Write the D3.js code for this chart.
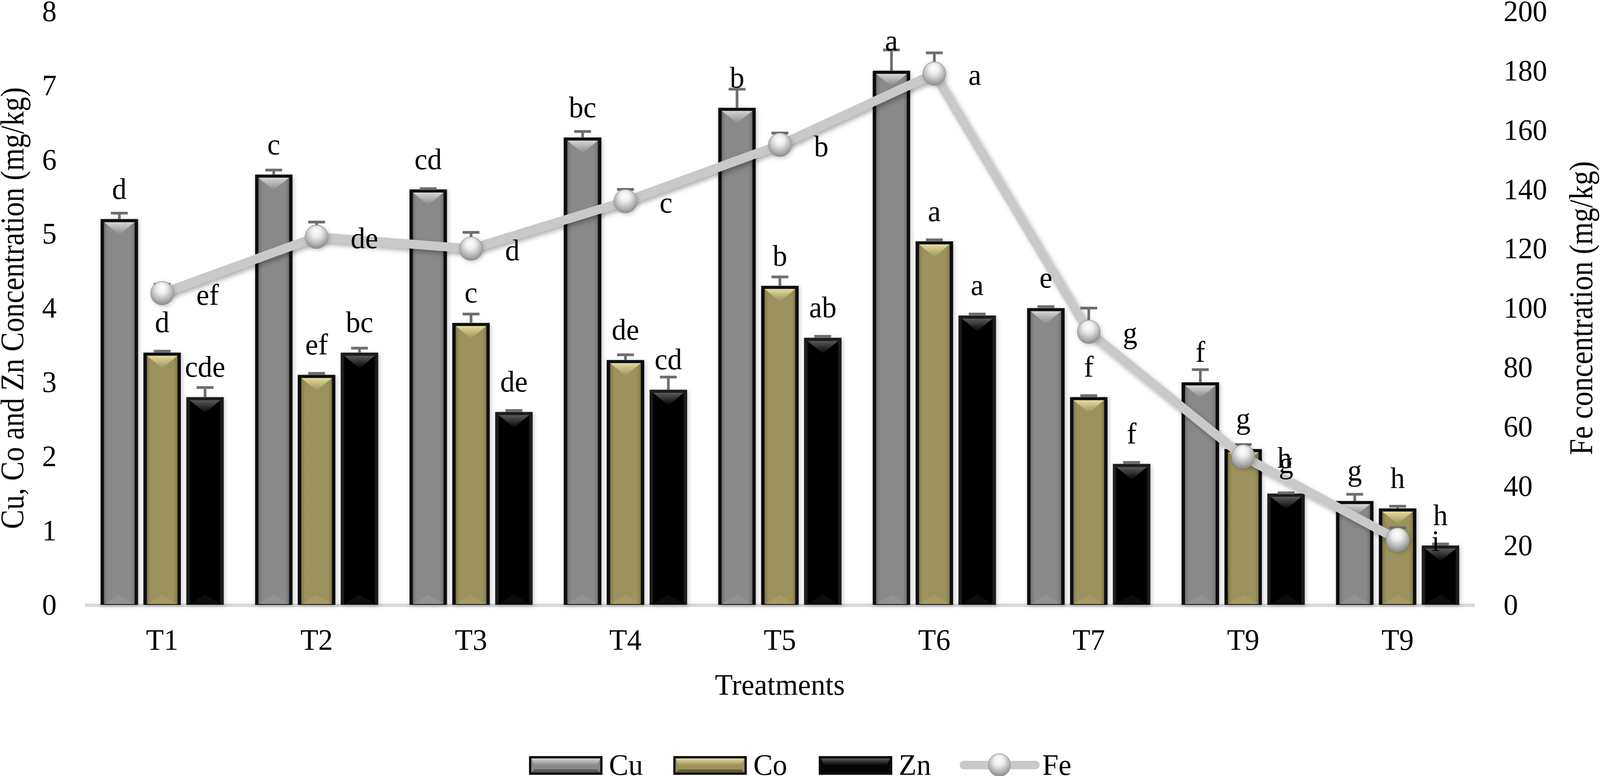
<!DOCTYPE html>
<html>
<head>
<meta charset="UTF-8">
<title>Cu, Co, Zn and Fe concentration</title>
<script src="https://d3js.org/d3.v7.min.js"></script>
<style>
  html, body { margin: 0; padding: 0; background: #fff; overflow: hidden; }
  svg { display: block; }
  text { font-family: "Liberation Serif", "Times New Roman", serif; fill: #000; }
  .axis text { font-size: 76px; }
  .axis path, .axis line { display: none; }
  .lab { font-size: 76px; }
</style>
</head>
<body>
<script>
// ---- data ----
var treatments = ["T1", "T2", "T3", "T4", "T5", "T6", "T7", "T9", "T9"];

var cu = [5.2, 5.8, 5.6, 6.3, 6.7, 7.2, 4.0, 3.0, 1.4];
var co = [3.4, 3.1, 3.8, 3.3, 4.3, 4.9, 2.8, 2.1, 1.3];
var zn = [2.8, 3.4, 2.6, 2.9, 3.6, 3.9, 1.9, 1.5, 0.8];
var fe = [105, 124, 120, 136, 155, 179, 92, 50, 22];

var cuErr = [0.08, 0.06, 0.01, 0.08, 0.25, 0.28, 0.02, 0.17, 0.09];
var coErr = [0.02, 0.02, 0.12, 0.07, 0.12, 0.02, 0.02, 0.06, 0.03];
var znErr = [0.13, 0.06, 0.02, 0.17, 0.02, 0.02, 0.02, 0.01, 0.02];
var feErr = [3, 5, 5.5, 4, 4, 7, 8, 2, 4];

var cuLetters = ["d", "c", "cd", "bc", "b", "a", "e", "f", "g"];
var coLetters = ["d", "ef", "c", "de", "b", "a", "f", "g", "h"];
var znLetters = ["cde", "bc", "de", "cd", "ab", "a", "f", "g", "h"];
var feLetters = ["ef", "de", "d", "c", "b", "a", "g", "h", "i"];

var leftTicks = [0, 1, 2, 3, 4, 5, 6, 7, 8];
var rightTicks = [0, 20, 40, 60, 80, 100, 120, 140, 160, 180, 200];

var W = 4180, H = 1986;

// drawn in a fixed 4180x1986 frame, scaled to whatever the window really is
var svg = d3.select("body").append("svg")
  .attr("width", window.innerWidth || W)
  .attr("height", window.innerHeight || H)
  .attr("viewBox", "0 0 " + W + " " + H)
  .attr("preserveAspectRatio", "none");

var defs = svg.append("defs");

var barShadow = defs.append("filter").attr("id", "barShadow")
  .attr("x", "-30%").attr("y", "-10%").attr("width", "160%").attr("height", "120%");
barShadow.append("feDropShadow")
  .attr("dx", 3).attr("dy", 3).attr("stdDeviation", 6)
  .attr("flood-color", "#000").attr("flood-opacity", 0.22);

var lineShadow = defs.append("filter").attr("id", "lineShadow")
  .attr("x", "-10%").attr("y", "-10%").attr("width", "120%").attr("height", "120%");
lineShadow.append("feDropShadow")
  .attr("dx", 6).attr("dy", 7).attr("stdDeviation", 6)
  .attr("flood-color", "#000").attr("flood-opacity", 0.3);

var series = [
  { key: "Cu", values: cu, err: cuErr, letters: cuLetters, fill: "#898989", light: "#d6d6d6", frame: "#0e0e0e" },
  { key: "Co", values: co, err: coErr, letters: coLetters, fill: "#9c925d", light: "#e4dc9c", frame: "#0e0e0e" },
  { key: "Zn", values: zn, err: znErr, letters: znLetters, fill: "#050505", light: "#5a5a5a", frame: "#1a1a1a" }
];

series.forEach(function(s) {
  var gr = defs.append("linearGradient").attr("id", "hl" + s.key)
    .attr("x1", 0).attr("y1", 0).attr("x2", 0).attr("y2", 1);
  gr.append("stop").attr("offset", "0%").attr("stop-color", s.light);
  gr.append("stop").attr("offset", "100%").attr("stop-color", s.fill);
  var side = defs.append("linearGradient").attr("id", "side" + s.key)
    .attr("x1", 0).attr("y1", 0).attr("x2", 1).attr("y2", 0);
  side.append("stop").attr("offset", "0%").attr("stop-color", d3.color(s.fill).darker(0.5));
  side.append("stop").attr("offset", "12%").attr("stop-color", s.fill);
  side.append("stop").attr("offset", "88%").attr("stop-color", s.fill);
  side.append("stop").attr("offset", "100%").attr("stop-color", d3.color(s.fill).darker(0.5));
});

var ball = defs.append("radialGradient").attr("id", "ball")
  .attr("cx", "48%").attr("cy", "38%").attr("r", "62%")
  .attr("fx", "48%").attr("fy", "25%");
ball.append("stop").attr("offset", "0%").attr("stop-color", "#ffffff");
ball.append("stop").attr("offset", "35%").attr("stop-color", "#eeeeee");
ball.append("stop").attr("offset", "75%").attr("stop-color", "#b4b4b4");
ball.append("stop").attr("offset", "100%").attr("stop-color", "#8a8a8a");

// ---- scales ----
var x = d3.scaleBand()
  .domain(d3.range(treatments.length))
  .range([222, 3853])
  .padding(0);

var yL = d3.scaleLinear().domain([0, 8]).range([1548, 29]);
var yR = d3.scaleLinear().domain([0, 200]).range([1548, 29]);

var barW = 98, stride = 112;
function cx(i) { return x(i) + x.bandwidth() / 2; }

// ---- baseline ----
svg.append("line")
  .attr("x1", x.range()[0]).attr("x2", x.range()[1])
  .attr("y1", yL(0) + 1).attr("y2", yL(0) + 1)
  .attr("stroke", "#d9d9d9").attr("stroke-width", 9);

// ---- axes ----
svg.append("g").attr("class", "axis")
  .attr("transform", "translate(" + x.range()[0] + ",0)")
  .call(d3.axisLeft(yL).tickValues(leftTicks).tickSize(0).tickPadding(74));

svg.append("g").attr("class", "axis")
  .attr("transform", "translate(" + x.range()[1] + ",0)")
  .call(d3.axisRight(yR).tickValues(rightTicks).tickSize(0).tickPadding(75));

svg.append("g").attr("class", "axis")
  .attr("transform", "translate(0," + yL(0) + ")")
  .call(d3.axisBottom(x).tickSize(0).tickPadding(61).tickFormat(function(i) { return treatments[i]; }));

// ---- bars ----
series.forEach(function(s, k) {
  var off = (k - 1) * stride;
  var g = svg.append("g").attr("filter", "url(#barShadow)");
  s.values.forEach(function(v, i) {
    var x0 = cx(i) + off - barW / 2;
    var top = yL(v), bot = yL(0);
    var b = g.append("g");
    b.append("rect")
      .attr("x", x0).attr("y", top).attr("width", barW).attr("height", bot - top)
      .attr("fill", s.frame);
    b.append("rect")
      .attr("x", x0 + 9).attr("y", top + 8).attr("width", barW - 18).attr("height", bot - top - 10)
      .attr("fill", "url(#side" + s.key + ")");
    b.append("polygon")
      .attr("points", [[x0 + 9, top + 8], [x0 + barW - 9, top + 8], [x0 + barW / 2, top + 40]].join(" "))
      .attr("fill", "url(#hl" + s.key + ")");
    b.append("polygon")
      .attr("points", [[x0 + 9, bot - 2], [x0 + barW - 9, bot - 2], [x0 + barW / 2, bot - 26]].join(" "))
      .attr("fill", s.light).attr("opacity", 0.12);
  });
});

// ---- bar error bars ----
var eg = svg.append("g").attr("stroke", "#6e6e6e").attr("stroke-width", 7);
series.forEach(function(s, k) {
  var off = (k - 1) * stride;
  s.values.forEach(function(v, i) {
    var c = cx(i) + off, t = yL(v + s.err[i]);
    eg.append("line").attr("x1", c).attr("x2", c).attr("y1", yL(v)).attr("y2", t);
    eg.append("line").attr("x1", c - 22).attr("x2", c + 22).attr("y1", t).attr("y2", t);
  });
});

// ---- Fe line ----
var feLine = d3.line()
  .x(function(d, i) { return cx(i); })
  .y(function(d) { return yR(d); });

svg.append("path")
  .datum(fe)
  .attr("d", feLine)
  .attr("fill", "none")
  .attr("stroke", "#c9c9c9")
  .attr("stroke-width", 23)
  .attr("stroke-linejoin", "round")
  .attr("filter", "url(#lineShadow)");

var fg = svg.append("g").attr("stroke", "#6e6e6e").attr("stroke-width", 7);
fe.forEach(function(v, i) {
  var c = cx(i), t = yR(v + feErr[i]);
  fg.append("line").attr("x1", c).attr("x2", c).attr("y1", yR(v)).attr("y2", t);
  fg.append("line").attr("x1", c - 22).attr("x2", c + 22).attr("y1", t).attr("y2", t);
});

svg.append("g").attr("filter", "url(#barShadow)")
  .selectAll("circle")
  .data(fe)
  .enter().append("circle")
  .attr("cx", function(d, i) { return cx(i); })
  .attr("cy", function(d) { return yR(d); })
  .attr("r", 30)
  .attr("fill", "url(#ball)")
  .attr("stroke", "#9a9a9a")
  .attr("stroke-width", 1.5);

// ---- letters ----
series.forEach(function(s, k) {
  var off = (k - 1) * stride;
  svg.append("g").selectAll("text")
    .data(s.values)
    .enter().append("text")
    .attr("class", "lab")
    .attr("text-anchor", "middle")
    .attr("x", function(d, i) { return cx(i) + off; })
    .attr("y", function(d) { return yL(d) - 52; })
    .text(function(d, i) { return s.letters[i]; });
});

svg.append("g").selectAll("text")
  .data(fe)
  .enter().append("text")
  .attr("class", "lab")
  .attr("x", function(d, i) { return cx(i) + 89; })
  .attr("y", function(d) { return yR(d) + 29; })
  .text(function(d, i) { return feLetters[i]; });

// ---- axis titles (glyphs a little wider across, as in the picture) ----
svg.append("text")
  .attr("transform", "translate(61," + ((yL(0) + yL(8)) / 2) + ") scale(1.18,1) rotate(-90)")
  .attr("text-anchor", "middle")
  .style("font-size", "74px")
  .text("Cu, Co and Zn Concentration (mg/kg)");

svg.append("text")
  .attr("transform", "translate(4160," + ((yR(0) + yR(200)) / 2) + ") scale(1.18,1) rotate(-90)")
  .attr("text-anchor", "middle")
  .style("font-size", "74px")
  .text("Fe concentration (mg/kg)");

svg.append("text")
  .attr("x", (x.range()[0] + x.range()[1]) / 2)
  .attr("y", 1778)
  .attr("text-anchor", "middle")
  .style("font-size", "76px")
  .text("Treatments");

// ---- legend ----
var legY = 1935, legH = 48, swW = 192;
var legX = [1382, 1759, 2139];
series.forEach(function(s, k) {
  var x0 = legX[k];
  var lg = svg.append("g");
  lg.append("rect").attr("x", x0).attr("y", legY).attr("width", swW).attr("height", legH).attr("fill", "#0e0e0e");
  lg.append("rect").attr("x", x0 + 6).attr("y", legY + 6).attr("width", swW - 12).attr("height", legH - 12).attr("fill", s.fill);
  lg.append("polygon")
    .attr("points", [[x0 + 6, legY + 6], [x0 + swW - 6, legY + 6], [x0 + swW - 14, legY + 24], [x0 + 14, legY + 24]].join(" "))
    .attr("fill", "url(#hl" + s.key + ")");
  lg.append("polygon")
    .attr("points", [[x0 + 6, legY + legH - 6], [x0 + swW - 6, legY + legH - 6], [x0 + swW - 14, legY + legH - 14], [x0 + 14, legY + legH - 14]].join(" "))
    .attr("fill", "#000").attr("opacity", 0.35);
  lg.append("text")
    .attr("x", x0 + swW + 17).attr("y", 1983)
    .style("font-size", "76px")
    .text(s.key);
});

svg.append("line")
  .attr("x1", 2518).attr("x2", 2705).attr("y1", 1958).attr("y2", 1958)
  .attr("stroke", "#c9c9c9").attr("stroke-width", 22).attr("stroke-linecap", "round");
svg.append("circle")
  .attr("cx", 2611).attr("cy", 1958).attr("r", 29)
  .attr("fill", "url(#ball)").attr("stroke", "#9a9a9a").attr("stroke-width", 1.5);
svg.append("text")
  .attr("x", 2723).attr("y", 1983)
  .style("font-size", "76px")
  .text("Fe");
</script>
</body>
</html>
